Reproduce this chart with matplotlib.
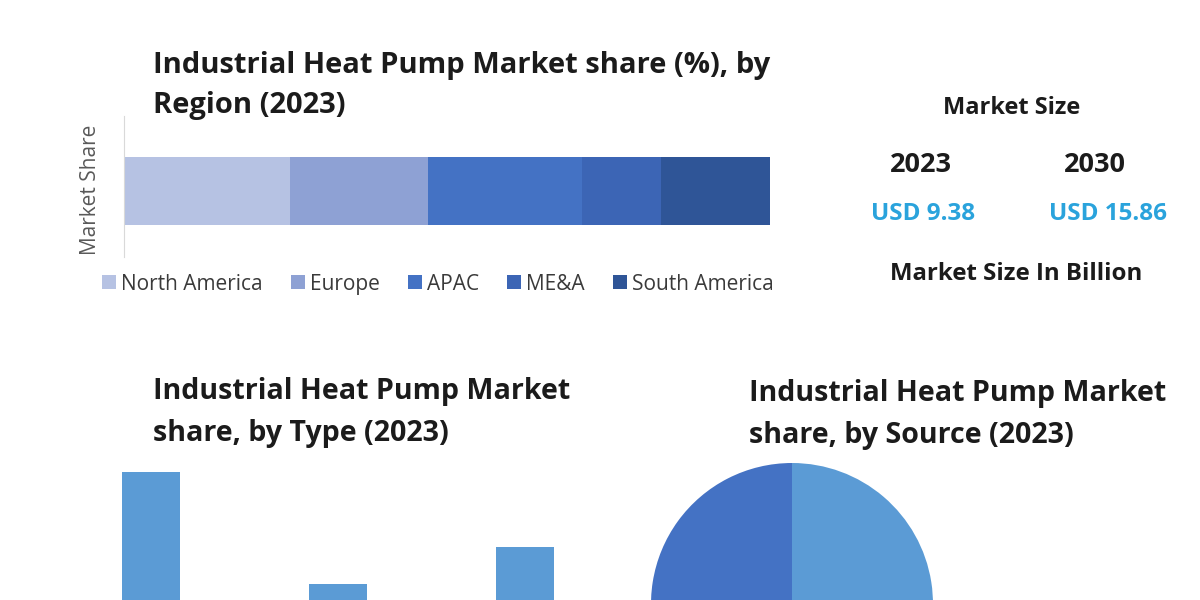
import matplotlib
matplotlib.use("Agg")
import matplotlib.pyplot as plt
from matplotlib.patches import Patch

plt.rcParams['font.family'] = ['Open Sans', 'DejaVu Sans']

W, H = 1200, 600

# ---------------- data ----------------
regions = ["North America", "Europe", "APAC", "ME&A", "South America"]
region_share = [25.7, 21.4, 23.8, 12.2, 16.9]
region_colors = ["#b6c2e3", "#8ea1d4", "#4472c4", "#3c65b5", "#2f5597"]

size_years = ["2023", "2030"]
size_values = ["USD 9.38", "USD 15.86"]

type_labels = ["Type A", "Type B", "Type C"]
type_share = [45, 15, 25]

source_labels = ["Source A", "Source B", "Source C"]
source_share = [45, 25, 30]
source_colors = ["#5b9bd5", "#a5a5a5", "#4472c4"]

titles = {
    "region": ["Industrial Heat Pump Market share (%), by", "Region (2023)"],
    "type": ["Industrial Heat Pump Market", "share, by Type (2023)"],
    "source": ["Industrial Heat Pump Market", "share, by Source (2023)"],
}

fig = plt.figure(figsize=(12, 6), dpi=100)
fig.patch.set_facecolor("white")


def fx(x):
    return x / W


def fy(y):
    return 1 - y / H


def axes_px(left, top, right, bottom):
    return fig.add_axes([fx(left), fy(bottom), (right - left) / W, (bottom - top) / H])


def ptext(x, y, s, **kw):
    fig.text(fx(x), fy(y), s, **kw)


TXT = "#1b1b1b"

# ---------------- region stacked bar ----------------
ax1 = axes_px(124, 116, 770, 257)
left = 0
for v, c, lab in zip(region_share, region_colors, regions):
    ax1.barh(0, v, left=left, height=0.96, color=c, label=lab, linewidth=0)
    left += v
ax1.set_xlim(0, 100)
ax1.set_ylim(-0.94, 1.06)
for s in ["top", "right", "bottom"]:
    ax1.spines[s].set_visible(False)
ax1.spines["left"].set_color("#d9d9d9")
ax1.set_xticks([])
ax1.set_yticks([])
ptext(90, 190, "Market Share", rotation=90, ha="center", va="center",
      fontsize=15, color="#595959")

handles = [Patch(facecolor=c, edgecolor="none") for c in region_colors]
fig.legend(handles, regions, loc="center", bbox_to_anchor=(fx(438), fy(284)),
           ncol=5, frameon=False, fontsize=15, handlelength=0.67, handleheight=0.67,
           handletextpad=0.25, columnspacing=1.34, labelcolor="#3a3a3a")

for i, line in enumerate(titles["region"]):
    ptext(153, 65 + 40 * i, line, ha="left", va="center", fontsize=21,
          fontweight="bold", color=TXT)

# ---------------- market size block ----------------
ptext(1012, 108, "Market Size", ha="center", va="center", fontsize=17,
      fontweight="bold", color=TXT)
year_x = [921, 1095]
val_x = [923, 1108]
for yx, vx, yr, val in zip(year_x, val_x, size_years, size_values):
    ptext(yx, 165, yr, ha="center", va="center", fontsize=19.5, fontweight="bold", color=TXT)
    ptext(vx, 214, val, ha="center", va="center", fontsize=17.5, fontweight="bold",
          color="#2aa3dc")
ptext(1016, 274, "Market Size In Billion", ha="center", va="center", fontsize=17.3,
      fontweight="bold", color=TXT)

# ---------------- type bar chart ----------------
ax2 = axes_px(57.5, 453.3, 618.5, 640)
ax2.bar(range(len(type_share)), type_share, width=0.31, color="#5b9bd5", linewidth=0)
ax2.set_xlim(-0.5, 2.5)
ax2.set_ylim(0, 50)
ax2.axis("off")
for i, line in enumerate(titles["type"]):
    ptext(153, 391 + 42 * i, line, ha="left", va="center", fontsize=20.6,
          fontweight="bold", color=TXT)

# ---------------- source pie ----------------
R = 141
ax3 = axes_px(792 - R, 604 - R, 792 + R, 604 + R)
ax3.pie(source_share, colors=source_colors, startangle=90, counterclock=False,
        wedgeprops=dict(linewidth=0))
ax3.set_xlim(-1, 1)
ax3.set_ylim(-1, 1)
ax3.set_aspect("equal")
for i, line in enumerate(titles["source"]):
    ptext(749, 393 + 42 * i, line, ha="left", va="center", fontsize=20.6,
          fontweight="bold", color=TXT)

fig.savefig("out.png", dpi=100, facecolor="white")
